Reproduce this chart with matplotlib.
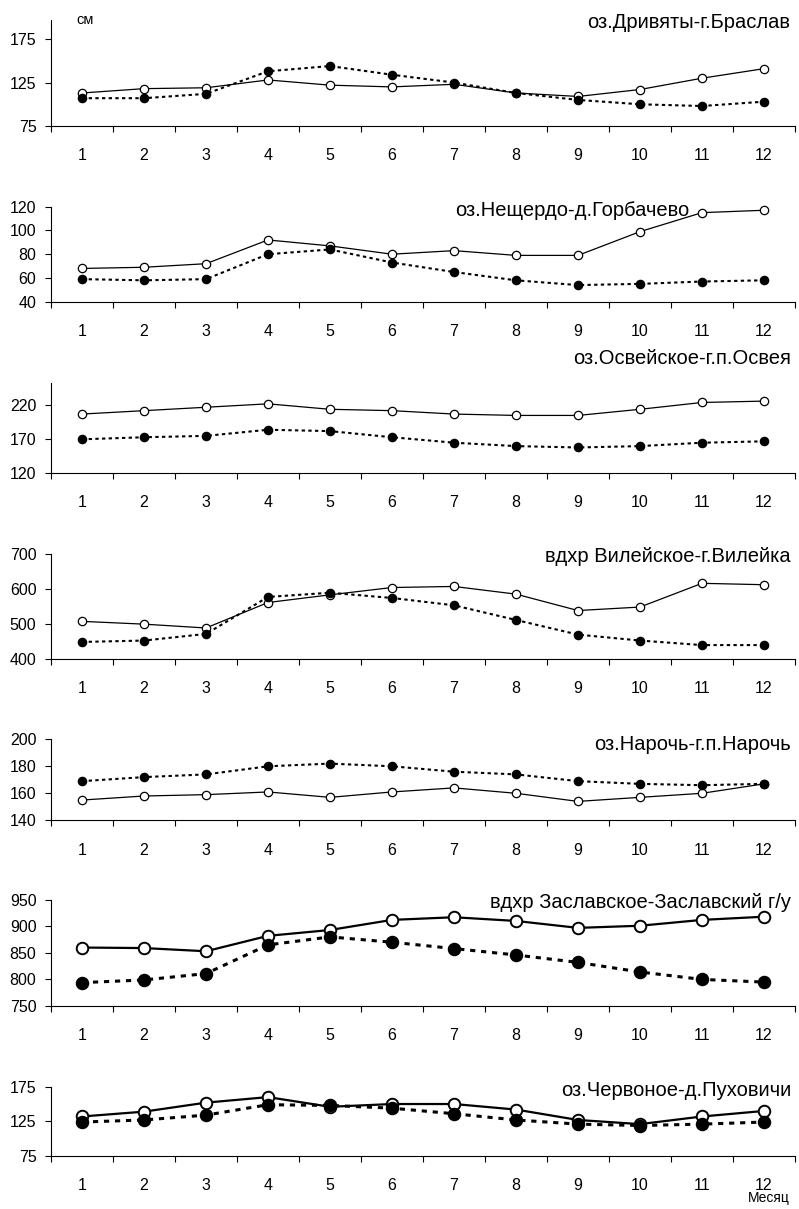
import matplotlib
matplotlib.use("Agg")
import matplotlib.pyplot as plt
import numpy as np

plt.rcParams['font.family'] = ['Liberation Sans', 'DejaVu Sans']

months = list(range(1, 13))
month_labels = [str(m) for m in months]

titles = [
    "оз.Дривяты-г.Браслав",
    "оз.Нещердо-д.Горбачево",
    "оз.Освейское-г.п.Освея",
    "вдхр Вилейское-г.Вилейка",
    "оз.Нарочь-г.п.Нарочь",
    "вдхр Заславское-Заславский г/у",
    "оз.Червоное-д.Пуховичи",
]

# solid line, open circles
braslav_solid = [113, 118, 119, 128, 122, 120, 123, 113, 109, 117, 130, 141]
# dotted line, filled circles
braslav_dot = [107, 107, 112, 138, 144, 134, 125, 113, 105, 100, 98, 103]

gorb_solid = [68, 69, 72, 92, 87, 80, 83, 79, 79, 99, 115, 117]
gorb_dot = [59, 58, 59, 80, 84, 73, 65, 58, 54, 55, 57, 58]

osveya_solid = [206, 211, 216, 221, 213, 211, 206, 204, 204, 213, 223, 225]
osveya_dot = [169, 172, 174, 183, 181, 172, 164, 159, 157, 159, 164, 166]

vileika_solid = [507, 499, 488, 561, 583, 604, 607, 585, 538, 548, 616, 612]
vileika_dot = [448, 452, 471, 577, 589, 574, 553, 511, 469, 452, 439, 439]

naroch_solid = [155, 158, 159, 161, 157, 161, 164, 160, 154, 157, 160, 167]
naroch_dot = [169, 172, 174, 180, 182, 180, 176, 174, 169, 167, 166, 167]

zaslav_solid = [860, 859, 853, 882, 893, 912, 917, 910, 897, 901, 912, 918]
zaslav_dot = [794, 799, 811, 865, 880, 870, 858, 846, 832, 814, 800, 795]

puhov_solid = [132, 139, 152, 160, 146, 150, 150, 142, 127, 121, 132, 140]
puhov_dot = [124, 127, 134, 149, 148, 144, 136, 127, 121, 119, 121, 124]

solid_series = [braslav_solid, gorb_solid, osveya_solid, vileika_solid,
                naroch_solid, zaslav_solid, puhov_solid]
dot_series = [braslav_dot, gorb_dot, osveya_dot, vileika_dot,
              naroch_dot, zaslav_dot, puhov_dot]

y_limits = [(75, 197), (40, 120), (120, 252), (400, 700), (140, 200), (750, 950), (75, 175)]
y_ticks = [[75, 125, 175], [40, 60, 80, 100, 120], [120, 170, 220],
           [400, 500, 600, 700], [140, 160, 180, 200],
           [750, 800, 850, 900, 950], [75, 125, 175]]

# layout in pixels (top, bottom) of each axes
W, H = 799, 1209
ax_px = [(20, 126), (206.7, 301.7), (382.7, 472.7), (554, 658.7),
         (739.3, 820.3), (899.7, 1006), (1086.7, 1156)]
title_px = [(790, 22), (689, 211), (791, 358), (791, 556), (791, 745), (791, 903), (791, 1091)]
heavy = [False, False, False, False, False, True, True]

fig = plt.figure(figsize=(W / 100, H / 100), dpi=100)
left_px, right_px = 51, 795

for i in range(7):
    top, bot = ax_px[i]
    ax = fig.add_axes([left_px / W, 1 - bot / H, (right_px - left_px) / W, (bot - top) / H])
    lw = 1.6 if heavy[i] else 0.9
    ms = 8.3 if heavy[i] else 6
    mew = 1.4 if heavy[i] else 0.9
    dlw = 2.2 if heavy[i] else 1.5
    dash = (0, (1.7, 1.9)) if heavy[i] else (0, (1.6, 1.6))
    ax.plot(months, solid_series[i], color='black', lw=lw, marker='o', ms=ms,
            mfc='white', mec='black', mew=mew, clip_on=False, zorder=3)
    ax.plot(months, dot_series[i], color='black', lw=dlw, ls=dash,
            marker='o', ms=ms, mfc='black', mec='black', mew=mew, clip_on=False, zorder=4)
    ax.set_xlim(0.5, 12.5)
    ax.set_ylim(*y_limits[i])
    ax.set_yticks(y_ticks[i])
    ax.set_xticks(months)
    ax.set_xticklabels(month_labels)
    ax.set_xticks(np.arange(0.5, 13, 1.0), minor=True)
    ax.tick_params(axis='x', which='major', length=0, pad=16, labelsize=11.5)
    ax.tick_params(axis='x', which='minor', length=4.5, width=0.8, direction='out')
    ax.tick_params(axis='y', which='major', length=4.5, width=0.8, pad=6, labelsize=11.5)
    for s in ['top', 'right']:
        ax.spines[s].set_visible(False)
    for s in ['left', 'bottom']:
        ax.spines[s].set_linewidth(0.8)
    ax.patch.set_alpha(0)
    tx, ty = title_px[i]
    fig.text(tx / W, 1 - ty / H, titles[i], ha='right', va='center', fontsize=14.5)

fig.text(85 / W, 1 - 20 / H, "см", ha='center', va='center', fontsize=10.5)
fig.text(790 / W, 1 - 1198 / H, "Месяц", ha='right', va='center', fontsize=10)

fig.savefig("out.png", dpi=100)
